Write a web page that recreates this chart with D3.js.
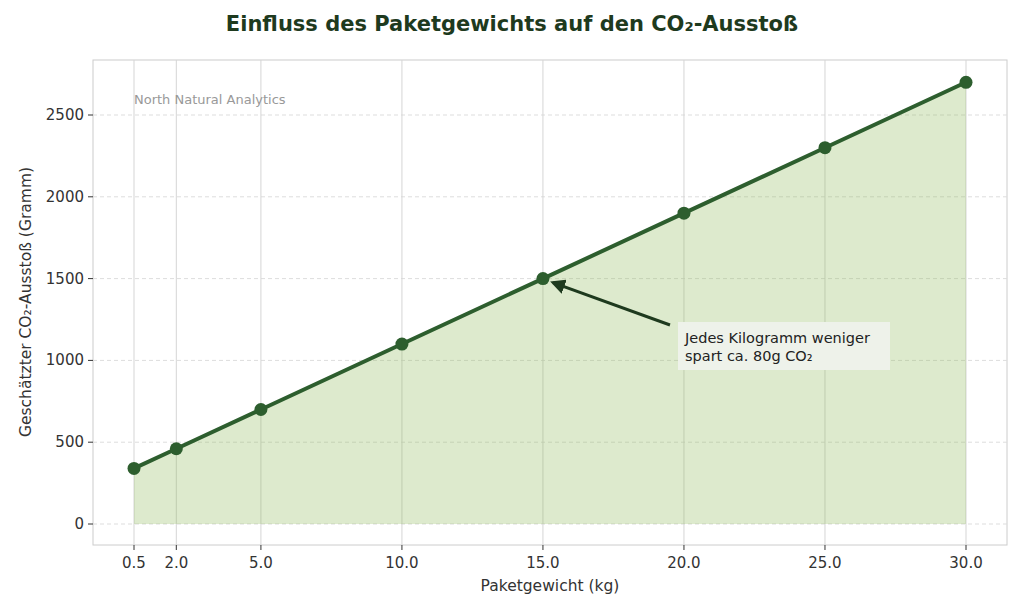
<!DOCTYPE html><html><head><meta charset="utf-8"><script src="https://cdn.jsdelivr.net/npm/d3@7"></script>
<style>body{margin:0;background:#fff}text{font-family:"DejaVu Sans",sans-serif}</style></head><body><svg width="1024" height="614"></svg>
<script>
const weights=[0.5,2,5,10,15,20,25,30];
const co2=[340,460,700,1100,1500,1900,2300,2700];
const yTicks=[0,500,1000,1500,2000,2500];
const svg=d3.select("svg");
const L=93,R=1007,T=60,B=545;
const x=d3.scaleLinear().domain([0.5,30]).range([134,966]);
const y=d3.scaleLinear().domain([0,2500]).range([524,115]);
svg.append("rect").attr("x",L).attr("y",T).attr("width",R-L).attr("height",B-T).attr("fill","#fff").attr("stroke","#ccc");
yTicks.forEach(t=>{svg.append("line").attr("x1",L).attr("x2",R).attr("y1",y(t)).attr("y2",y(t)).attr("stroke","#ddd").attr("stroke-dasharray","4,3");
svg.append("line").attr("x1",L-5).attr("x2",L).attr("y1",y(t)).attr("y2",y(t)).attr("stroke","#333");
svg.append("text").attr("x",L-9).attr("y",y(t)+5).attr("text-anchor","end").attr("font-size",15).attr("fill","#333").text(t);});
weights.forEach(w=>{svg.append("line").attr("x1",x(w)).attr("x2",x(w)).attr("y1",T).attr("y2",B).attr("stroke","#d5d5d5");
svg.append("line").attr("x1",x(w)).attr("x2",x(w)).attr("y1",B).attr("y2",B+5).attr("stroke","#333");
svg.append("text").attr("x",x(w)).attr("y",B+23).attr("text-anchor","middle").attr("font-size",15).attr("fill","#333").text(w.toFixed(1));});
const pts=weights.map((w,i)=>[w,co2[i]]);
svg.append("path").attr("d",d3.area().x(d=>x(d[0])).y0(y(0)).y1(d=>y(d[1]))(pts)).attr("fill","#8db85a").attr("opacity",0.3);
svg.append("path").attr("d",d3.line().x(d=>x(d[0])).y(d=>y(d[1]))(pts)).attr("fill","none").attr("stroke","#2d5e2e").attr("stroke-width",4);
pts.forEach(d=>svg.append("circle").attr("cx",x(d[0])).attr("cy",y(d[1])).attr("r",6.5).attr("fill","#2d5e2e"));
svg.append("text").attr("x",134).attr("y",104).attr("font-size",13).attr("fill","#999").text("North Natural Analytics");
svg.append("text").attr("x",512).attr("y",31).attr("text-anchor","middle").attr("font-size",21).attr("font-weight","bold").attr("fill","#1e3a1e").text("Einfluss des Paketgewichts auf den CO₂-Ausstoß");
svg.append("text").attr("x",550).attr("y",591).attr("text-anchor","middle").attr("font-size",15.5).attr("fill","#333").text("Paketgewicht (kg)");
svg.append("text").attr("transform","translate(31,302) rotate(-90)").attr("text-anchor","middle").attr("font-size",15.5).attr("fill","#333").text("Geschätzter CO₂-Ausstoß (Gramm)");
svg.append("rect").attr("x",678).attr("y",322).attr("width",212).attr("height",48).attr("fill","#eef2ea");
svg.append("text").attr("x",685).attr("y",343).attr("font-size",14.5).attr("fill","#222").text("Jedes Kilogramm weniger");
svg.append("text").attr("x",685).attr("y",361).attr("font-size",14.5).attr("fill","#222").text("spart ca. 80g CO₂");
svg.append("defs").append("marker").attr("id","ah").attr("viewBox","0 0 10 10").attr("refX",8).attr("refY",5).attr("markerWidth",5).attr("markerHeight",5).attr("orient","auto").append("path").attr("d","M0,0L10,5L0,10z").attr("fill","#1e3a1e");
svg.append("line").attr("x1",670).attr("y1",325).attr("x2",x(15)+10).attr("y2",y(1500)+4).attr("stroke","#1e3a1e").attr("stroke-width",3).attr("marker-end","url(#ah)");
</script></body></html>
